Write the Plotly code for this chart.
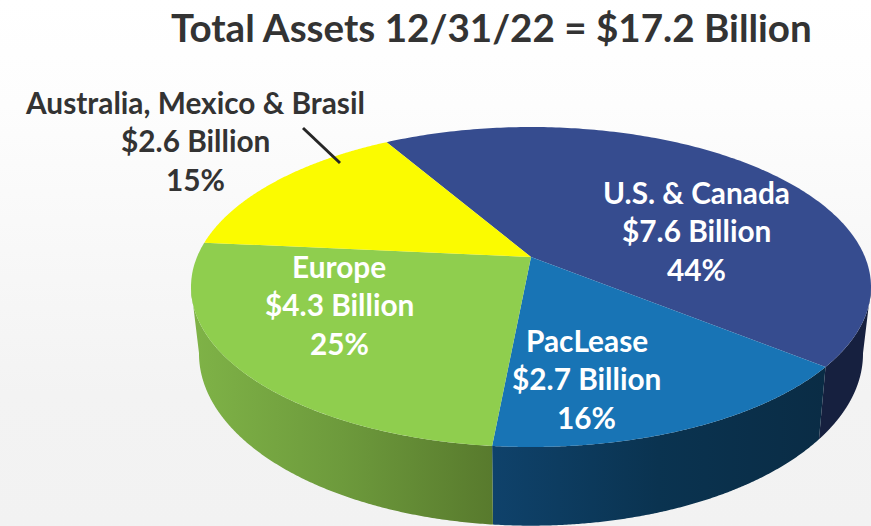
import numpy as np
import plotly.graph_objects as go

categories = ["U.S. & Canada", "PacLease", "Europe", "Australia, Mexico & Brasil"]
assets_billion = [7.6, 2.7, 4.3, 2.6]
percent_labels = ["44%", "16%", "25%", "15%"]
amount_labels = ["$7.6 Billion", "$2.7 Billion", "$4.3 Billion", "$2.6 Billion"]
title_text = "Total Assets 12/31/22 = $17.2 Billion"

top_colors = ["#364c8f", "#1874b5", "#8fce4e", "#fbfb00"]
side_gradients = [
    ["#16203f", "#16203f"],
    ["#0f426b", "#0a3350", "#0a2c45"],
    ["#7fb347", "#6d9a3c", "#587a2d"],
    ["#b0b000", "#b0b000"],
]
label_centers = [(696, 192), (586.5, 340), (339, 266), (195, 102)]
label_colors = ["white", "white", "white", "#333333"]
LINE_H = 38.5
START = 329.85


def project(theta, cx, vy, a, b, k):
    u, v = np.sin(theta), np.cos(theta)
    s = 1 / (1 + k * v)
    return cx + a * np.sqrt(1 - k * k) * u * s, vy - b * (1 - k * k) * v * s


def top(t):
    return project(t, 531, 257, 340, 160, 30 / 160)


def low(t):
    return project(t, 531, 321, 332, 172, 0.19)


fracs = np.array(assets_billion) / sum(assets_billion)
edges = np.radians(START + 360 * np.concatenate([[0], np.cumsum(fracs)]))

fig = go.Figure()
fig.add_trace(go.Scatter(
    x=[0, 871, 871, 0, 0], y=[0, 0, 526, 526, 0], mode="none", fill="toself",
    fillgradient=dict(type="vertical", colorscale=[[0, "#f2f2f2"], [0.25, "#f3f3f3"], [0.8, "#fdfdfd"], [1, "#ffffff"]]),
    hoverinfo="skip", showlegend=False))

# side walls: only the part between the two silhouette angles is visible
for i in range(4):
    a0n, a1n = np.mod(edges[i], 2 * np.pi), np.mod(edges[i + 1], 2 * np.pi)
    if a1n < a0n:
        a0n -= 2 * np.pi
    lo, hi = max(a0n, np.radians(100.8)), min(a1n, np.radians(259.2))
    if hi <= lo:
        continue
    t = np.linspace(lo, hi, 200)
    tx, ty = top(t)
    bx, by = low(t)
    x = np.concatenate([tx, bx[::-1], tx[:1]])
    y = np.concatenate([ty, by[::-1], ty[:1]])
    cols = side_gradients[i]
    cs = [[j / (len(cols) - 1), c] for j, c in enumerate(cols)]
    fig.add_trace(go.Scatter(
        x=x, y=y, mode="none", fill="toself",
        fillgradient=dict(type="horizontal", colorscale=cs),
        hoverinfo="skip", showlegend=False))

# top face
for i in range(4):
    t = np.linspace(edges[i], edges[i + 1], 200)
    tx, ty = top(t)
    fig.add_trace(go.Scatter(
        x=np.concatenate([[531], tx, [531]]), y=np.concatenate([[257], ty, [257]]),
        mode="none", fill="toself", fillcolor=top_colors[i],
        name=categories[i], hoverinfo="name", showlegend=False))

# leader line
fig.add_trace(go.Scatter(x=[303, 340], y=[128, 163], mode="lines",
                         line=dict(color="#262626", width=3), hoverinfo="skip", showlegend=False))

FONT = "Lato"
ann = [dict(x=491, y=26.5, text=f"<b>{title_text}</b>", showarrow=False,
            font=dict(family=FONT, size=38.6, color="#333333"))]
for i in range(4):
    cx, cy = label_centers[i]
    for j, s in enumerate([categories[i], amount_labels[i], percent_labels[i]]):
        ann.append(dict(x=cx, y=cy + j * LINE_H, text=f"<b>{s}</b>", showarrow=False,
                        font=dict(family=FONT, size=29.8, color=label_colors[i])))

fig.update_layout(
    width=871, height=526, margin=dict(l=0, r=0, t=0, b=0),
    paper_bgcolor="white", plot_bgcolor="white",
    xaxis=dict(range=[0, 871], visible=False, fixedrange=True),
    yaxis=dict(range=[526, 0], visible=False, fixedrange=True),
    annotations=ann, showlegend=False)
fig.write_html("out.html", config=dict(displayModeBar=False),
               post_script="document.body.style.margin='0';document.body.style.overflow='hidden';")
